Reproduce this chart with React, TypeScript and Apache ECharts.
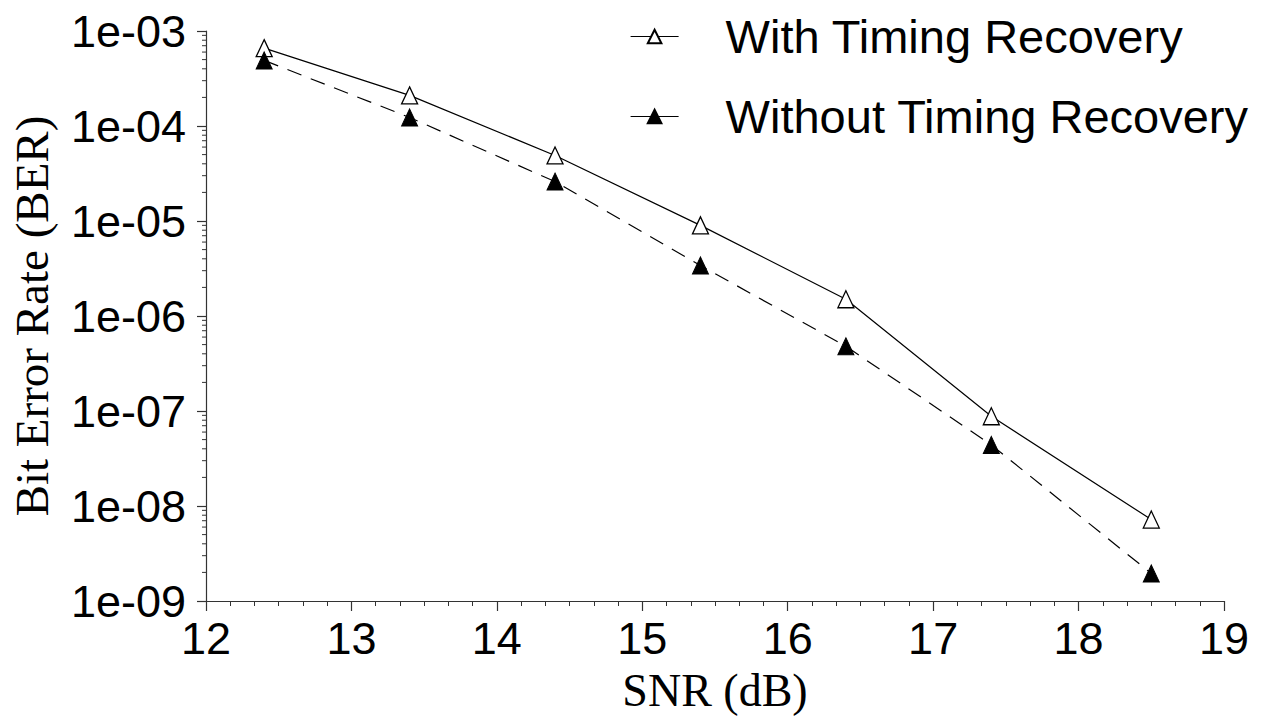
import React, { useEffect, useRef } from "react";
import * as echarts from "echarts";

const snr = [12.4, 13.4, 14.4, 15.4, 16.4, 17.4, 18.5];
const withTR = [6.6e-4, 2.1e-4, 4.9e-5, 9.0e-6, 1.5e-6, 8.8e-8, 7.2e-9];
const withoutTR = [4.9e-4, 1.23e-4, 2.6e-5, 3.4e-6, 4.8e-7, 4.4e-8, 1.95e-9];
const seriesNames = ["With Timing Recovery", "Without Timing Recovery"];
const decadeExps = [-9, -8, -7, -6, -5, -4];
const minorMultipliers = [2, 3, 4, 5, 6, 7, 8, 9];
const xMin = 12;
const xMax = 19;
const yMin = 1e-9;
const yMax = 1e-3;

export default function App() {
  const ref = useRef<HTMLDivElement>(null);
  useEffect(() => {
    if (!ref.current) return;
    const chart = echarts.init(ref.current, null, { renderer: "svg" });
    const minorData: number[][] = [];
    decadeExps.forEach((e) => {
      minorMultipliers.forEach((m) => minorData.push([xMin, m * Math.pow(10, e)]));
    });
    const axisColor = "#333";
    const sans = "'Liberation Sans', Arial, sans-serif";
    const serif = "'Liberation Serif', 'Times New Roman', serif";
    const legendBase = {
      orient: "vertical",
      left: 630,
      padding: 0,
      itemWidth: 48,
      itemHeight: 17,
      lineStyle: { type: "solid", width: 1.2, color: "#000" },
      textStyle: {
        fontFamily: sans,
        fontSize: 47,
        color: "#000",
        padding: [16, 0, 0, 42],
      },
    };
    chart.setOption({
      animation: false,
      backgroundColor: "#fff",
      grid: {
        left: 206,
        right: 50,
        top: 31,
        bottom: 118,
        containLabel: false,
        outerBoundsMode: "none",
      },
      legend: [
        { ...legendBase, data: [seriesNames[0]], top: 13 },
        { ...legendBase, data: [seriesNames[1]], top: 93 },
      ],
      xAxis: {
        type: "value",
        min: xMin,
        max: xMax,
        interval: 1,
        name: "SNR (dB)",
        nameLocation: "middle",
        nameGap: 66,
        nameTextStyle: { fontFamily: serif, fontSize: 46, color: "#000" },
        axisLine: { show: true, onZero: false, lineStyle: { color: axisColor, width: 1.2 } },
        axisTick: { show: true, length: 10, lineStyle: { color: axisColor, width: 1.2 } },
        minorTick: { show: true, splitNumber: 6, length: 5, lineStyle: { color: axisColor, width: 1 } },
        splitLine: { show: false },
        axisLabel: { fontFamily: sans, fontSize: 45, color: "#000", margin: 15 },
      },
      yAxis: {
        type: "log",
        logBase: 10,
        min: yMin,
        max: yMax,
        name: "Bit Error Rate (BER)",
        nameLocation: "middle",
        nameGap: 151,
        nameTextStyle: { fontFamily: serif, fontSize: 47, color: "#000" },
        axisLine: { show: true, lineStyle: { color: axisColor, width: 1.2 } },
        axisTick: { show: true, length: 9, lineStyle: { color: axisColor, width: 1.2 } },
        minorTick: { show: false },
        splitLine: { show: false },
        axisLabel: {
          fontFamily: sans,
          fontSize: 45,
          color: "#000",
          margin: 20,
          formatter: (v: number) => {
            const e = Math.round(Math.log10(v));
            const a = Math.abs(e);
            return "1e" + (e < 0 ? "-" : "+") + (a < 10 ? "0" + a : String(a));
          },
        },
      },
      series: [
        {
          name: seriesNames[0],
          type: "line",
          data: snr.map((x, i) => [x, withTR[i]]),
          symbol: "triangle",
          symbolSize: [16, 17],
          lineStyle: { color: "#000", width: 1.2, type: "solid" },
          itemStyle: { color: "#fff", borderColor: "#000", borderWidth: 1.3 },
          z: 3,
        },
        {
          name: seriesNames[1],
          type: "line",
          data: snr.map((x, i) => [x, withoutTR[i]]),
          symbol: "triangle",
          symbolSize: [16, 17],
          lineStyle: { color: "#000", width: 1.2, type: [15, 10] },
          itemStyle: { color: "#000", borderColor: "#000", borderWidth: 1 },
          z: 3,
        },
        {
          name: "minorTicksY",
          type: "custom",
          silent: true,
          clip: false,
          data: minorData,
          renderItem: (params: any, api: any) => {
            const p = api.coord([api.value(0), api.value(1)]);
            return {
              type: "line",
              shape: { x1: p[0] - 4, y1: p[1], x2: p[0], y2: p[1] },
              style: { stroke: axisColor, lineWidth: 1 },
            };
          },
          z: 2,
        },
      ],
    });
    return () => chart.dispose();
  }, []);
  return (
    <div
      ref={ref}
      style={{ position: "absolute", left: 0, top: 0, width: 1274, height: 719 }}
    />
  );
}
